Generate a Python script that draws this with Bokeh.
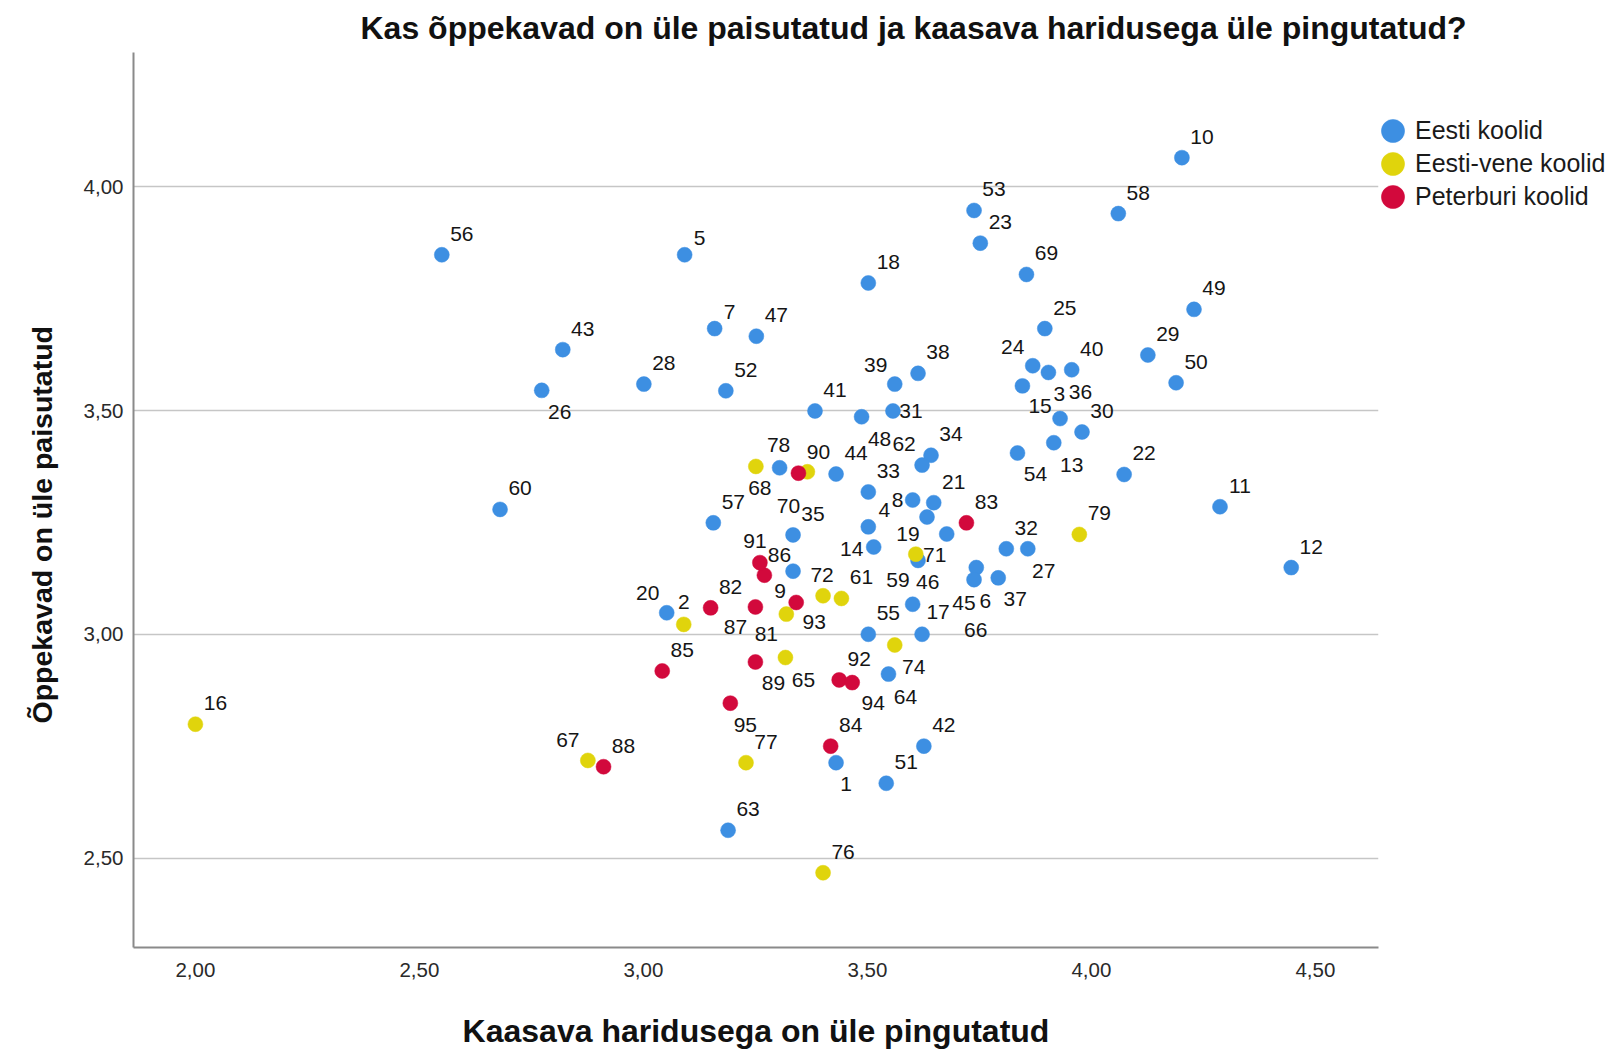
from bokeh.plotting import figure
from bokeh.models import (ColumnDataSource, Range1d, FixedTicker, Legend, LegendItem,
                          CustomJSTickFormatter, Title)
from bokeh.core.properties import value
from bokeh.embed import file_html
from bokeh.resources import INLINE

# ---------------- data ----------------
title_text = "Kas õppekavad on üle paisutatud ja kaasava haridusega üle pingutatud?"
x_title = "Kaasava haridusega on üle pingutatud"
y_title = "Õppekavad on üle paisutatud"

group_names = ["Eesti koolid", "Eesti-vene koolid", "Peterburi koolid"]

eesti_id = [1, 3, 4, 5, 6, 7, 8, 9, 10, 11, 12, 13, 14, 15, 17, 18, 19, 20, 21, 22,
             23, 24, 25, 26, 27, 28, 29, 30, 31, 32, 33, 34, 35, 36, 37, 38, 39, 40,
             41, 42, 43, 44, 45, 46, 47, 48, 49, 50, 51, 52, 53, 54, 55, 56, 57, 58,
             59, 60, 62, 63, 64, 66, 69, 78]
eesti_x = [3.430, 3.846, 3.502, 3.092, 3.743, 3.159, 3.601, 3.334, 4.202, 4.287, 4.446,
           3.916, 3.514, 3.930, 3.622, 3.502, 3.633, 3.052, 3.648, 4.073, 3.752, 3.869,
           3.896, 2.773, 3.858, 3.001, 4.126, 3.979, 3.557, 3.810, 3.502, 3.642, 3.334,
           3.904, 3.792, 3.613, 3.561, 3.956, 3.383, 3.626, 2.820, 3.430, 3.738, 3.601,
           3.252, 3.487, 4.229, 4.189, 3.542, 3.184, 3.738, 3.835, 3.502, 2.550, 3.156,
           4.060, 3.613, 2.680, 3.622, 3.189, 3.547, 3.677, 3.855, 3.304]
eesti_y = [2.713, 3.555, 3.240, 3.848, 3.149, 3.683, 3.300, 3.141, 4.065, 3.285, 3.149,
           3.428, 3.195, 3.482, 3.000, 3.785, 3.262, 3.048, 3.294, 3.357, 3.874, 3.600,
           3.683, 3.545, 3.191, 3.559, 3.624, 3.452, 3.499, 3.191, 3.318, 3.400, 3.222,
           3.585, 3.126, 3.583, 3.559, 3.591, 3.499, 2.750, 3.636, 3.358, 3.122, 3.067,
           3.666, 3.486, 3.726, 3.562, 2.667, 3.544, 3.947, 3.405, 3.000, 3.848, 3.249,
           3.940, 3.165, 3.279, 3.378, 2.562, 2.911, 3.224, 3.804, 3.372]

vene_id = [2, 16, 61, 65, 67, 68, 70, 71, 72, 74, 76, 77, 79, 81]
vene_x = [3.090, 2.000, 3.442, 3.317, 2.876, 3.251, 3.366, 3.608, 3.401, 3.561, 3.401,
          3.229, 3.973, 3.319]
vene_y = [3.022, 2.799, 3.080, 2.948, 2.718, 3.375, 3.363, 3.179, 3.086, 2.976, 2.467,
          2.713, 3.223, 3.045]

peterburi_id = [82, 83, 84, 85, 86, 87, 88, 89, 90, 91, 92, 93, 94, 95]
peterburi_x = [3.150, 3.721, 3.418, 3.042, 3.270, 3.250, 2.911, 3.250, 3.346, 3.260,
               3.437, 3.341, 3.466, 3.194]
peterburi_y = [3.059, 3.249, 2.750, 2.918, 3.132, 3.061, 2.704, 2.938, 3.360, 3.160,
               2.898, 3.071, 2.892, 2.846]

x_ticks = [2.0, 2.5, 3.0, 3.5, 4.0, 4.5]
x_tick_labels = ["2,00", "2,50", "3,00", "3,50", "4,00", "4,50"]
y_ticks = [2.5, 3.0, 3.5, 4.0]
y_tick_labels = ["2,50", "3,00", "3,50", "4,00"]

# ---------------- styles / layout ----------------
colors = ["#3d8fe2", "#e0d40c", "#d2093c"]
FONT = "Liberation Sans"

# label placement (screen px, from the point centre to the label centre)
default_nudge = (20, -21)
label_nudge = {
    1: (10, 21), 2: (0, -22), 3: (37, 8), 4: (16, -17), 5: (15, -17), 6: (9, 33),
    7: (15, -17), 8: (-15, 0), 9: (-13, 20), 13: (18, 22), 14: (-22, 2),
    15: (-20, -13), 17: (16, -22), 19: (-19, 17), 20: (-19, -20), 24: (-20, -19),
    26: (18, 22), 27: (16, 22), 31: (18, 0), 36: (32, 20), 37: (17, 21),
    39: (-19, -19), 45: (-10, 23), 46: (15, -22), 48: (18, 22), 54: (18, 21),
    59: (-20, 20), 62: (-18, -21), 64: (17, 23), 65: (18, 22), 66: (29, 96),
    67: (-20, -20), 68: (4, 22), 70: (-19, 34), 71: (19, 1), 72: (-1, -21),
    74: (19, 22), 78: (-1, -23), 81: (-20, 20), 86: (15, -20), 87: (-20, 20),
    89: (18, 21), 91: (-5, -22), 93: (18, 20), 94: (21, 20), 95: (15, 22),
}

p = figure(frame_width=1245, frame_height=895,
           x_range=Range1d(1.8618, 4.6408), y_range=Range1d(2.300, 4.300),
           output_backend="svg", toolbar_location=None,
           min_border_left=133, min_border_top=52, min_border_right=0,
           min_border_bottom=0)
p.outline_line_color = None
p.background_fill_color = "white"
p.border_fill_color = "white"

p.title.text = title_text
p.title.align = "left"
p.title.offset = 227
p.title.standoff = 14
p.title.text_font = FONT
p.title.text_font_size = "32px"
p.title.text_font_style = "bold"
p.title.text_color = "#111111"

p.xgrid.visible = False
p.ygrid.ticker = FixedTicker(ticks=y_ticks)
p.ygrid.grid_line_color = "#c6c6c6"
p.ygrid.grid_line_width = 1.6

fmt_code = """
const i = tvals.findIndex(t => Math.abs(t - tick) < 1e-9);
return i >= 0 ? tlabels[i] : tick.toFixed(2).replace('.', ',');
"""
p.xaxis.ticker = FixedTicker(ticks=x_ticks)
p.xaxis.formatter = CustomJSTickFormatter(args=dict(tvals=x_ticks, tlabels=x_tick_labels), code=fmt_code)
p.yaxis.ticker = FixedTicker(ticks=y_ticks)
p.yaxis.formatter = CustomJSTickFormatter(args=dict(tvals=y_ticks, tlabels=y_tick_labels), code=fmt_code)

for ax in (p.xaxis, p.yaxis):
    ax.axis_line_color = "#8a8a8a"
    ax.axis_line_width = 2
    ax.major_tick_out = 0
    ax.major_tick_in = 0
    ax.minor_tick_out = 0
    ax.minor_tick_in = 0
    ax.major_label_text_font = FONT
    ax.major_label_text_font_size = "20.5px"
    ax.major_label_text_color = "#2a2a2a"
    ax.axis_label_text_font = FONT
    ax.axis_label_text_font_style = "bold"
    ax.axis_label_text_color = "#111111"

p.xaxis.axis_label = x_title
p.xaxis.axis_label_text_font_size = "32px"
p.xaxis.major_label_standoff = 15
p.xaxis.axis_label_standoff = 33
p.yaxis.major_label_standoff = 10

p.add_layout(Title(text=y_title, align="left", offset=224, standoff=45,
                   text_font=FONT, text_font_size="28.5px", text_font_style="bold",
                   text_color="#111111"), "left")

groups = [(eesti_id, eesti_x, eesti_y), (vene_id, vene_x, vene_y),
          (peterburi_id, peterburi_x, peterburi_y)]

renderers = []
lab_x, lab_y, lab_t, lab_dx, lab_dy = [], [], [], [], []
for (ids, xs, ys), col in zip(groups, colors):
    src = ColumnDataSource(dict(x=xs, y=ys, id=ids))
    r = p.ellipse("x", "y", source=src, width=15, height=15,
                  width_units="screen", height_units="screen",
                  fill_color=col, line_color=col, line_width=0.5)
    renderers.append(r)
    for i, xv, yv in zip(ids, xs, ys):
        dx, dy = label_nudge.get(i, default_nudge)
        lab_x.append(xv); lab_y.append(yv); lab_t.append(str(i))
        lab_dx.append(dx); lab_dy.append(dy)

lab_src = ColumnDataSource(dict(x=lab_x, y=lab_y, text=lab_t, dx=lab_dx, dy=lab_dy))
p.text("x", "y", text="text", x_offset="dx", y_offset="dy", source=lab_src,
       text_font=value(FONT), text_font_size="21px", text_color="#151515",
       text_align="center", text_baseline="middle")

legend = Legend(items=[LegendItem(label=n, renderers=[r]) for n, r in zip(group_names, renderers)],
                location=(0, 736), glyph_width=29, glyph_height=29, spacing=4,
                label_standoff=8, padding=0, margin=0, border_line_color=None,
                background_fill_alpha=0, label_text_font=FONT,
                label_text_font_size="25px", label_text_color="#1a1a1a")
p.add_layout(legend, "right")

open("out.html", "w").write(file_html(p, INLINE))
